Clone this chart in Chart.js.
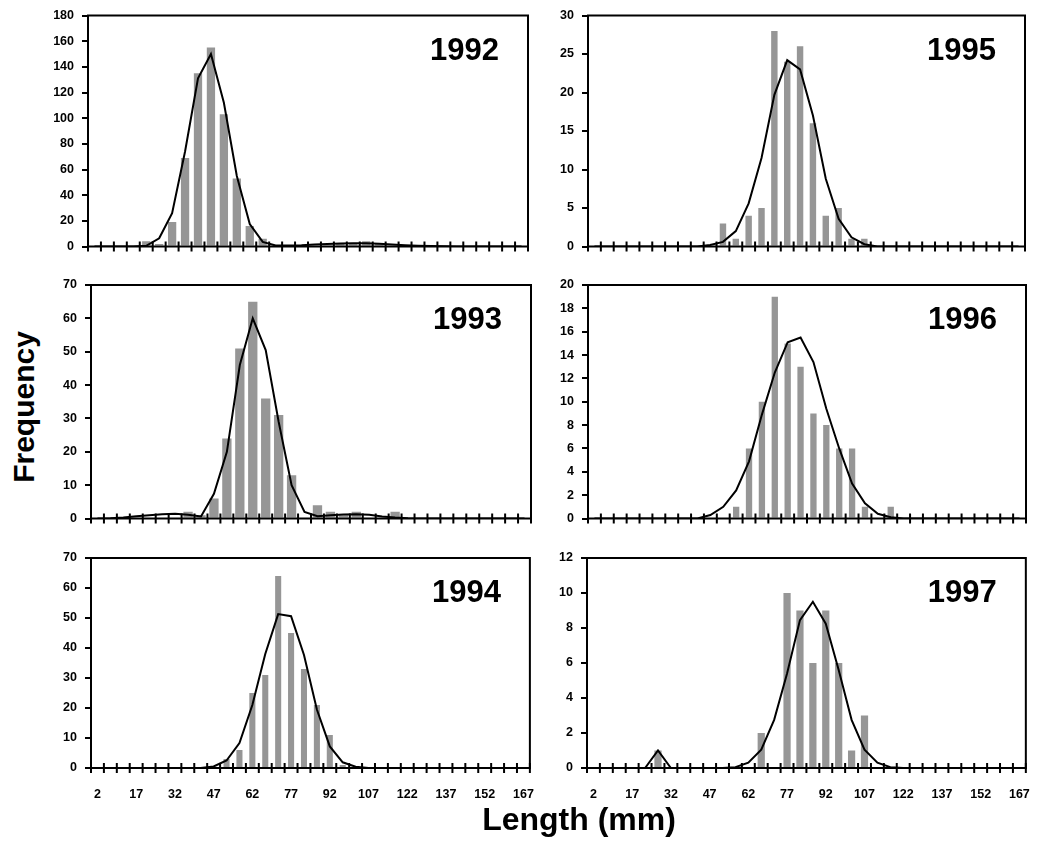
<!DOCTYPE html>
<html>
<head>
<meta charset="utf-8">
<title>Length frequency 1992-1997</title>
<script src="https://cdn.jsdelivr.net/npm/chart.js@4.4.1/dist/chart.umd.min.js"></script>
<style>
  body { margin: 0; background: #fff; width: 1039px; height: 852px; position: relative; overflow: hidden;
         font-family: Arial, "Liberation Sans", sans-serif; }
  .panel { position: absolute; }
  .axis-title { position: absolute; left: 0; top: 0; font-weight: bold; white-space: nowrap; color: #000; }
  #ytitle { font-size: 30px; line-height: 30px; transform: translate(24px, 407px) translate(-50%, -50%) rotate(-90deg); }
  #xtitle { font-size: 32px; line-height: 32px; transform: translate(579px, 819px) translate(-50%, -50%); }
</style>
</head>
<body>
<div class="panel" id="p1992"><canvas id="c1992"></canvas></div>
<div class="panel" id="p1995"><canvas id="c1995"></canvas></div>
<div class="panel" id="p1993"><canvas id="c1993"></canvas></div>
<div class="panel" id="p1996"><canvas id="c1996"></canvas></div>
<div class="panel" id="p1994"><canvas id="c1994"></canvas></div>
<div class="panel" id="p1997"><canvas id="c1997"></canvas></div>
<div class="axis-title" id="ytitle">Frequency</div>
<div class="axis-title" id="xtitle">Length (mm)</div>

<script>
// Length classes (mm), 5 mm bins
const lengths = [2, 7, 12, 17, 22, 27, 32, 37, 42, 47, 52, 57, 62, 67, 72, 77, 82,
                 87, 92, 97, 102, 107, 112, 117, 122, 127, 132, 137, 142, 147, 152, 157, 162, 167];

// Observed frequencies per year
const freq1992 = [0, 0, 0, 0, 4, 2, 19, 69, 135, 155, 103, 53, 16, 6, 0, 0, 0,
                  0, 1, 2, 2, 4, 2, 0, 0, 0, 0, 0, 0, 0, 0, 0, 0, 0];
const freq1993 = [0, 0, 0, 0, 0, 0, 0, 2, 1, 6, 24, 51, 65, 36, 31, 13, 0,
                  4, 2, 1, 2, 0, 0, 2, 0, 0, 0, 0, 0, 0, 0, 0, 0, 0];
const freq1994 = [0, 0, 0, 0, 0, 0, 0, 0, 0, 0, 3, 6, 25, 31, 64, 45, 33,
                  21, 11, 1, 0, 0, 0, 0, 0, 0, 0, 0, 0, 0, 0, 0, 0, 0];
const freq1995 = [0, 0, 0, 0, 0, 0, 0, 0, 0, 0, 3, 1, 4, 5, 28, 24, 26,
                  16, 4, 5, 1, 1, 0, 0, 0, 0, 0, 0, 0, 0, 0, 0, 0, 0];
const freq1996 = [0, 0, 0, 0, 0, 0, 0, 0, 0, 0, 0, 1, 6, 10, 19, 15, 13,
                  9, 8, 6, 6, 1, 0, 1, 0, 0, 0, 0, 0, 0, 0, 0, 0, 0];
const freq1997 = [0, 0, 0, 0, 0, 1, 0, 0, 0, 0, 0, 0, 0, 2, 0, 10, 9,
                  6, 9, 6, 1, 3, 0, 0, 0, 0, 0, 0, 0, 0, 0, 0, 0, 0];

// Fitted curves
const fit1992 = [0, 0, 0, 0, 0.5, 6.4, 26, 74, 131, 150, 112, 55, 17.5, 3.6, 0.8, 0.8, 1.0,
                 1.5, 2, 2.3, 2.5, 2.5, 2.2, 1.6, 1.0, 0.6, 0.3, 0.1, 0, 0, 0, 0, 0, 0];
const fit1993 = [0, 0.1, 0.3, 0.7, 1.0, 1.3, 1.4, 1.1, 0.6, 7.4, 20, 46, 60, 50.5, 29, 10, 2,
                 0.7, 1.0, 1.2, 1.3, 1.1, 0.6, 0.3, 0.1, 0, 0, 0, 0, 0, 0, 0, 0, 0];
const fit1994 = [0, 0, 0, 0, 0, 0, 0, 0, 0, 0.5, 2.5, 8.3, 21, 38, 51.3, 50.6, 37.7,
                 19.5, 7.2, 1.9, 0.4, 0, 0, 0, 0, 0, 0, 0, 0, 0, 0, 0, 0, 0];
const fit1995 = [0, 0, 0, 0, 0, 0, 0, 0, 0, 0.2, 0.6, 2.0, 5.6, 11.5, 19.7, 24.2, 23,
                 17, 8.8, 3.6, 1.2, 0.3, 0, 0, 0, 0, 0, 0, 0, 0, 0, 0, 0, 0];
const fit1996 = [0, 0, 0, 0, 0, 0, 0, 0, 0, 0.3, 1.0, 2.4, 4.9, 8.9, 12.5, 15.1, 15.5,
                 13.4, 9.4, 6, 3.0, 1.3, 0.4, 0.1, 0, 0, 0, 0, 0, 0, 0, 0, 0, 0];
const fit1997 = [0, 0, 0, 0, 0, 1, 0, 0, 0, 0, 0, 0.05, 0.3, 1.05, 2.75, 5.4, 8.45,
                 9.5, 8.25, 5.6, 2.75, 1.05, 0.3, 0.05, 0, 0, 0, 0, 0, 0, 0, 0, 0, 0];

const FONT = 'Arial, "Liberation Sans", sans-serif';
const BAR_GREY = '#969696';

// frame, crossing tick marks on the x axis and the year label
const panelDecor = {
  id: 'panelDecor',
  afterDraw(chart, args, opts) {
    const ctx = chart.ctx;
    const area = chart.chartArea;
    const xs = chart.scales.x;
    ctx.save();
    ctx.strokeStyle = '#000';
    ctx.lineWidth = 2;
    ctx.strokeRect(area.left, area.top, area.right - area.left, area.bottom - area.top);

    const half = (xs.getPixelForValue(1) - xs.getPixelForValue(0)) / 2;
    ctx.beginPath();
    for (let i = 0; i <= lengths.length; i++) {
      const x = i < lengths.length ? xs.getPixelForValue(i) - half : xs.getPixelForValue(i - 1) + half;
      ctx.moveTo(x, area.bottom - 5);
      ctx.lineTo(x, area.bottom + 5);
    }
    ctx.stroke();

    ctx.fillStyle = '#000';
    ctx.font = 'bold 31px ' + FONT;
    ctx.textAlign = 'right';
    ctx.textBaseline = 'alphabetic';
    ctx.fillText(opts.text, area.right - 29, area.top + 44);
    ctx.restore();
  }
};

function makePanel(year, counts, curve, yMax, yStep, barPct, box) {
  const holder = document.getElementById('p' + year);
  holder.style.left = box.left + 'px';
  holder.style.top = box.top + 'px';
  holder.style.width = box.width + 'px';
  holder.style.height = box.height + 'px';

  new Chart(document.getElementById('c' + year), {
    type: 'bar',
    data: {
      labels: lengths,
      datasets: [
        {
          type: 'line',
          data: curve,
          borderColor: '#000',
          borderWidth: 2,
          pointRadius: 0,
          tension: 0,
          fill: false,
          order: 0
        },
        {
          type: 'bar',
          data: counts,
          backgroundColor: BAR_GREY,
          borderWidth: 0,
          barPercentage: barPct,
          categoryPercentage: 1,
          order: 1
        }
      ]
    },
    options: {
      responsive: true,
      maintainAspectRatio: false,
      animation: false,
      layout: { padding: { top: box.padTop, right: box.padRight, left: 0, bottom: 0 } },
      plugins: {
        legend: { display: false },
        tooltip: { enabled: false },
        panelDecor: { text: String(year) }
      },
      scales: {
        x: {
          offset: true,
          grid: { display: false, drawTicks: false },
          border: { display: false },
          ticks: {
            display: box.labels,
            autoSkip: false,
            maxRotation: 0,
            padding: 19,
            color: '#000',
            font: { family: FONT, size: 12.5, weight: 'bold' },
            callback: function(value, index) {
              return index % 3 === 0 ? this.getLabelForValue(value) : '';
            }
          },
          afterFit: function(scale) { scale.height = box.xHeight; }
        },
        y: {
          min: 0,
          max: yMax,
          grid: { drawOnChartArea: false, tickLength: 6, color: '#000', lineWidth: 2 },
          border: { display: false },
          ticks: {
            stepSize: yStep,
            padding: 8,
            color: '#000',
            font: { family: FONT, size: 12.5, weight: 'bold' }
          },
          afterFit: function(scale) { scale.width = box.yWidth; }
        }
      }
    },
    plugins: [panelDecor]
  });
}

makePanel(1992, freq1992, fit1992, 180, 20, 0.64,
  { left: 40, top: 0, width: 500, height: 262, yWidth: 48, padTop: 14, padRight: 12, xHeight: 12, labels: false });
makePanel(1995, freq1995, fit1995, 30, 5, 0.5,
  { left: 540, top: 0, width: 499, height: 262, yWidth: 48, padTop: 14, padRight: 14, xHeight: 12, labels: false });
makePanel(1993, freq1993, fit1993, 70, 10, 0.72,
  { left: 40, top: 262, width: 500, height: 272, yWidth: 51, padTop: 23, padRight: 9, xHeight: 12, labels: false });
makePanel(1996, freq1996, fit1996, 20, 2, 0.49,
  { left: 540, top: 262, width: 499, height: 272, yWidth: 48, padTop: 23, padRight: 13, xHeight: 12, labels: false });
// bottom row: the tick labels reserve extra room on the right, so the canvases are wider
makePanel(1994, freq1994, fit1994, 70, 10, 0.47,
  { left: 40, top: 534, width: 513, height: 274, yWidth: 51, padTop: 24, padRight: 10, xHeight: 40, labels: true });
makePanel(1997, freq1997, fit1997, 12, 2, 0.56,
  { left: 540, top: 534, width: 509, height: 274, yWidth: 47, padTop: 24, padRight: 13, xHeight: 40, labels: true });
</script>
</body>
</html>
